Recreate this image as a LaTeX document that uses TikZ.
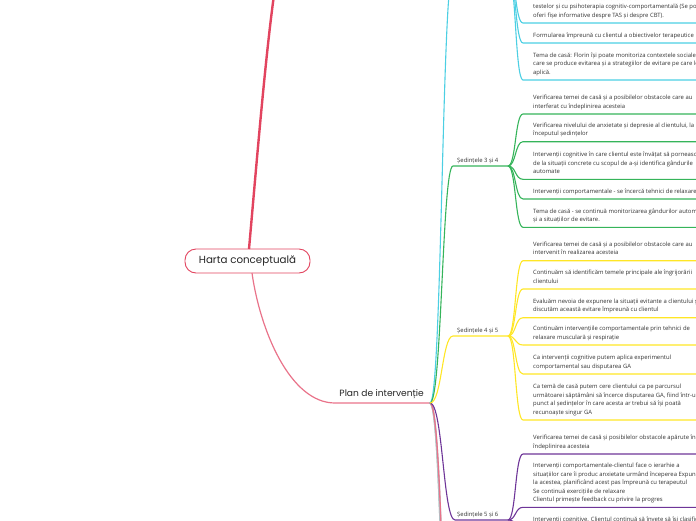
\documentclass[tikz,border=0pt]{standalone}
\usepackage{fontspec}
\setmainfont{Open Sans}
\newfontfamily\titlefont{Poppins}
\definecolor{cred}{HTML}{E2445F}
\definecolor{cpink}{HTML}{E9738A}
\definecolor{ccyan}{HTML}{4CCFE3}
\definecolor{cgreen}{HTML}{35B45A}
\definecolor{cyellow}{HTML}{FFE625}
\definecolor{cpurple}{HTML}{6E3598}
\definecolor{cgrey}{HTML}{B4C1C6}
\definecolor{cteal}{HTML}{A5CFC9}
\definecolor{txt}{HTML}{333333}
\newcommand\leaffont{\fontsize{5.9}{8.5}\selectfont}
\begin{document}
\begin{tikzpicture}[x=1pt,y=-1pt,
  leaf/.style={anchor=south west,inner sep=0pt,align=left,text=txt,font=\leaffont},
  sesslabel/.style={anchor=base west,inner sep=0pt,text=txt,font=\leaffont},
  conn/.style={line width=1.1pt},
  up/.style={conn,line cap=round}]
\useasboundingbox (0,0) rectangle (696,520);
\clip (0,0) rectangle (696,520);

% central node
\node[draw=cred,line width=0.9pt,fill=white,rounded corners=11pt,minimum width=125pt,minimum height=24pt,inner sep=0pt,font=\titlefont\fontsize{10.3}{12}\selectfont,text=black!85] (root) at (247.5,261) {Harta conceptuală};
\coordinate (rtop) at (249,249);
\coordinate (rout) at (274,-5);
\draw[cred,line width=2.4pt] (rtop) .. controls (256,170) and (265,60) .. (rout);

% Plan de interventie
\coordinate (rbot) at (252,273);
\coordinate (pstart) at (335,403);
\coordinate (hub) at (430,403);
\draw[cpink,line width=1.2pt] (rbot) .. controls (260,330) and (290,403) .. (pstart) -- (hub);
\node[anchor=base east,inner sep=0pt,font=\titlefont\fontsize{9.1}{10}\selectfont,text=black!85] (plan) at (424,396) {Plan de intervenție};

% sessions
\coordinate (cS) at (453,-28); \coordinate (cH) at (508,-28);
\coordinate (gS) at (453,166); \coordinate (gH) at (508,166);
\coordinate (yS) at (453,336); \coordinate (yH) at (508,336);
\coordinate (pS) at (455,520); \coordinate (pH) at (508,520);
\coordinate (q1) at (453,690); \coordinate (q2) at (453,740);
\coordinate (q3) at (453,800); \coordinate (q4) at (453,860);

\draw[cgrey,line width=1.6pt] (hub) .. controls (442,403) and (442,690) .. (q1) -- ++(60,0);
\draw[cteal,line width=1.6pt] (hub) .. controls (442,403) and (442,740) .. (q2) -- ++(60,0);
\draw[cgrey,line width=1.6pt] (hub) .. controls (443,403) and (443,800) .. (q3) -- ++(60,0);
\draw[cpink,line width=1.3pt] (hub) .. controls (445,403) and (445,860) .. (q4) -- ++(60,0);
\draw[cpurple,conn] (hub) .. controls (443,403) and (443,520) .. (pS) -- (pH);
\draw[ccyan,conn] (hub) .. controls (442,403) and (442,-28) .. (cS) -- (cH);
\draw[cgreen,conn] (hub) .. controls (442,403) and (442,166) .. (gS) -- (gH);
\draw[cyellow,conn] (hub) .. controls (442,403) and (442,336) .. (yS) -- (yH);

\node[sesslabel] (gL) at (457,162) {Ședințele 3 și 4};
\node[sesslabel] (yL) at (457,332) {Ședințele 4 și 5};
\node[sesslabel] (pL) at (457,516) {Ședințele 5 și 6};

% cyan leaves
\foreach \n/\yy in {c1/23,c2/43,c3/80} {
  \coordinate (\n) at (523,\yy);
  \draw[ccyan,conn] (cH) .. controls (516,-28) and (515,\yy) .. (\n) -- ++(190,0);
}
\node[leaf] (c1t) at (533,20) {Familiarizarea clientului cu rezultatele\\testelor și cu psihoterapia cognitiv-comportamentală (Se poate\\oferi fișe informative despre TAS și despre CBT).\strut};
\node[leaf] (c2t) at (533,40) {Formularea împreună cu clientul a obiectivelor terapeutice\strut};
\node[leaf] (c3t) at (533,77) {Tema de casă: Florin își poate monitoriza contextele sociale în\\care se produce evitarea și a strategiilor de evitare pe care le\\aplică.\strut};

% green leaves
\foreach \n/\yy in {g1/114,g2/141.7,g3/179.3,g4/199,g5/227.3} {
  \coordinate (\n) at (523,\yy);
  \draw[cgreen,conn] (gH) .. controls (516,166) and (515,\yy) .. (\n) -- ++(190,0);
}
\node[leaf] (g1t) at (533,111) {Verificarea temei de casă și a posibilelor obstacole care au\\interferat cu îndeplinirea acesteia\strut};
\node[leaf] (g2t) at (533,138.7) {Verificarea nivelului de anxietate și depresie al clientului, la\\începutul ședințelor\strut};
\node[leaf] (g3t) at (533,176.3) {Intervenții cognitive în care clientul este învățat să pornească\\de la situații concrete cu scopul de a-și identifica gândurile\\automate\strut};
\node[leaf] (g4t) at (533,196) {Intervenții comportamentale - se încercă tehnici de relaxare\strut};
\node[leaf] (g5t) at (533,224.3) {Tema de casă - se continuă monitorizarea gândurilor automate\\și a situațiilor de evitare.\strut};

% yellow leaves
\foreach \n/\yy in {y1/260.7,y2/289,y3/317.7,y4/345,y5/374,y6/420} {
  \coordinate (\n) at (523,\yy);
  \draw[cyellow,conn] (yH) .. controls (516,336) and (515,\yy) .. (\n) -- ++(190,0);
}
\node[leaf] (y1t) at (533,257.7) {Verificarea temei de casă și a posibilelor obstacole care au\\intervenit în realizarea acesteia\strut};
\node[leaf] (y2t) at (533,286) {Continuăm să identificăm temele principale ale îngrijorării\\clientului\strut};
\node[leaf] (y3t) at (533,314.7) {Evaluăm nevoia de expunere la situații evitante a clientului și\\discutăm această evitare împreună cu clientul\strut};
\node[leaf] (y4t) at (533,342) {Continuăm intervențiile comportamentale prin tehnici de\\relaxare musculară și respirație\strut};
\node[leaf] (y5t) at (533,371) {Ca intervenții cognitive putem aplica experimentul\\comportamental sau disputarea GA\strut};
\node[leaf] (y6t) at (533,417) {Ca temă de casă putem cere clientului ca pe parcursul\\următoarei săptămâni să încerce disputarea GA, fiind într-un\\punct al ședințelor în care acesta ar trebui să își poată\\recunoaște singur GA\strut};

% purple leaves
\foreach \n/\yy in {p1/454,p2/507.3,p3/527} {
  \coordinate (\n) at (523,\yy);
  \draw[cpurple,conn] (pH) .. controls (516,520) and (515,\yy) .. (\n) -- ++(190,0);
}
\node[leaf] (p1t) at (533,451) {Verificarea temei de casă și posibilelor obstacole apărute în\\îndeplinirea acesteia\strut};
\node[leaf] (p2t) at (533,504.3) {Intervenții comportamentale-clientul face o ierarhie a\\situațiilor care îi produc anxietate urmând începerea Expunerii\\la acestea, planificând acest pas împreună cu terapeutul\\Se continuă exercițiile de relaxare\\Clientul primește feedback cu privire la progres\strut};
\node[leaf] (p3t) at (533,524) {Intervenții cognitive. Clientul continuă să învețe să își clasifice\strut};
\end{tikzpicture}
\end{document}
